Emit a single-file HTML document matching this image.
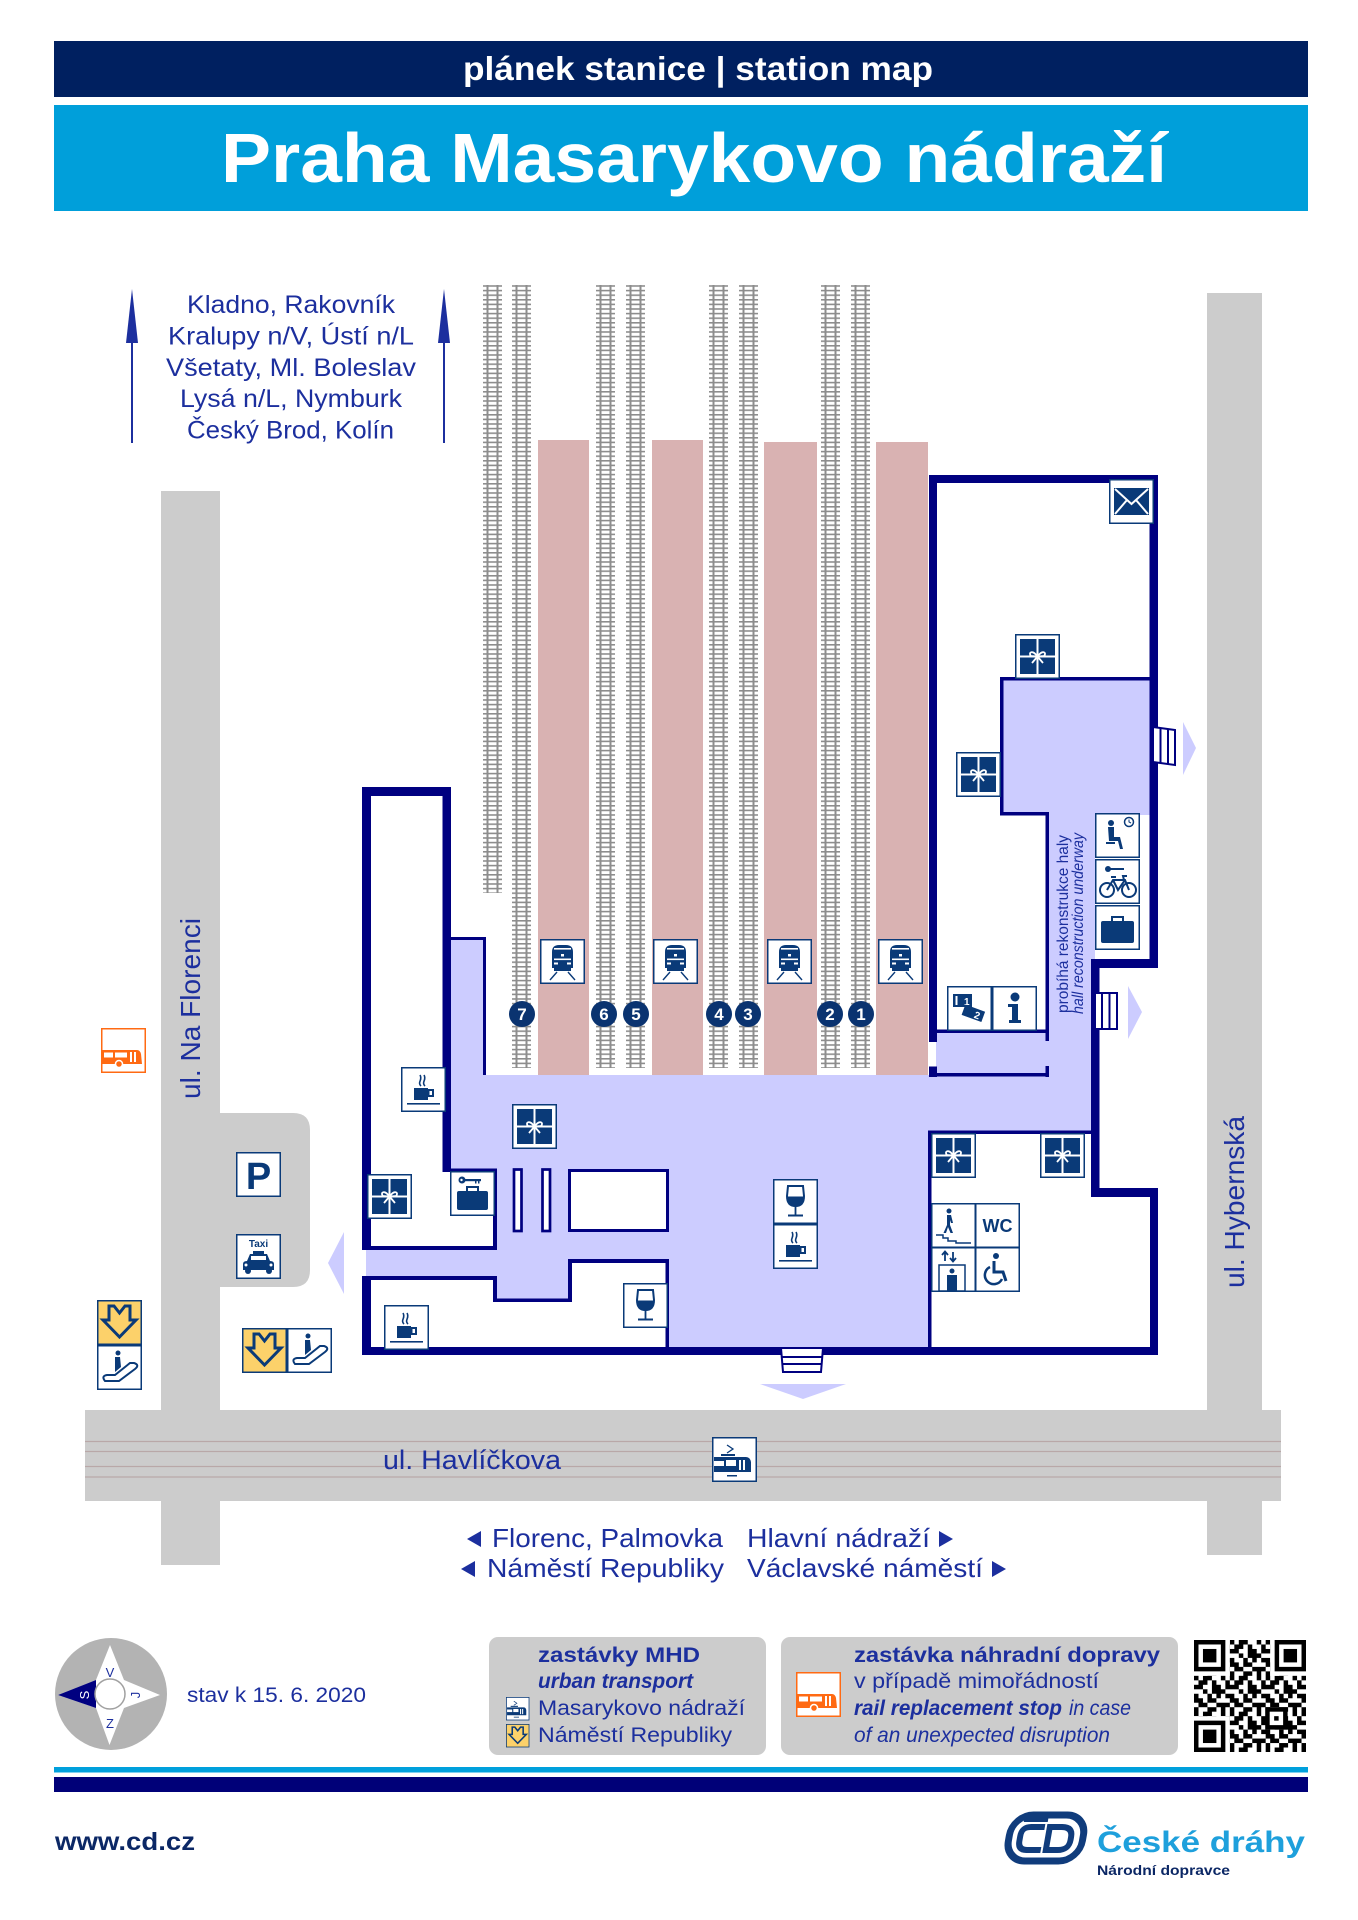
<!DOCTYPE html>
<html><head><meta charset="utf-8"><style>
html,body{margin:0;padding:0;background:#fff;}
svg{display:block;}
text{font-family:"Liberation Sans",sans-serif;}
</style></head><body>
<svg xmlns="http://www.w3.org/2000/svg" xmlns:xlink="http://www.w3.org/1999/xlink" width="1358" height="1920" viewBox="0 0 1358 1920">
<defs>
<pattern id="ties" x="0" y="0" width="19" height="4.6" patternUnits="userSpaceOnUse"><rect width="19" height="1.6" fill="#8d8d8d"/></pattern>
<g id="box"><rect x="0.75" y="0.75" width="43.5" height="43.5" fill="#fff" stroke="#0a3a78" stroke-width="1.5"/></g>
<g id="gift"><use href="#box"/><rect x="5" y="5" width="35" height="35" fill="#0a3a78"/><rect x="21.5" y="5" width="2" height="35" fill="#fff"/><rect x="5" y="21.5" width="35" height="2" fill="#fff"/><path d="M22.5 22.5 C17 15 13 19 16 22 Z M22.5 22.5 C28 15 32 19 29 22 Z M22.5 22.5 L17 29 M22.5 22.5 L28 29" stroke="#fff" stroke-width="1.8" fill="none"/></g>
<g id="train"><use href="#box"/><path d="M12 13 Q12 6 19 6 L26 6 Q33 6 33 13 L33 29 L12 29 Z" fill="#0a3a78"/><rect x="14" y="9" width="17" height="1.6" fill="#fff"/><rect x="14" y="19.5" width="17" height="1.6" fill="#fff"/><rect x="21" y="15" width="3" height="2.5" fill="#fff"/><rect x="14" y="23.5" width="4" height="2" fill="#fff"/><rect x="27" y="23.5" width="4" height="2" fill="#fff"/><rect x="14" y="29" width="17" height="3" fill="#0a3a78"/><path d="M17 33 L10 41 M28 33 L35 41" stroke="#0a3a78" stroke-width="1.4" fill="none"/></g>
<g id="cafe"><use href="#box"/><path d="M20 19 C16 15 22 13 19 8 M24 19 C20 15 26 13 23 8" stroke="#0a3a78" stroke-width="1.6" fill="none"/><rect x="13" y="21" width="14" height="12" fill="#0a3a78"/><rect x="27.5" y="23" width="4.5" height="6" fill="none" stroke="#0a3a78" stroke-width="2"/><rect x="6" y="36" width="33" height="1.6" fill="#0a3a78"/></g>
<g id="wine"><use href="#box"/><path d="M15 7 L30 7 L31 17 Q31 27 22.5 27 Q14 27 14 17 Z" fill="none" stroke="#0a3a78" stroke-width="2"/><path d="M14.5 17.5 L30.5 17.5 Q30.5 26.5 22.5 26.5 Q14.5 26.5 14.5 17.5 Z" fill="#0a3a78"/><rect x="21.6" y="26" width="1.8" height="10" fill="#0a3a78"/><rect x="15" y="35.5" width="15" height="2" fill="#0a3a78"/></g>
<g id="lugkey"><use href="#box"/><circle cx="12" cy="9" r="3.5" fill="#0a3a78"/><circle cx="11.5" cy="9" r="1.2" fill="#fff"/><rect x="14" y="8" width="17" height="2.2" fill="#0a3a78"/><rect x="25" y="10" width="1.5" height="2.5" fill="#0a3a78"/><rect x="28" y="10" width="1.5" height="2.5" fill="#0a3a78"/><rect x="17" y="16" width="11" height="5" fill="none" stroke="#0a3a78" stroke-width="2"/><rect x="7" y="20" width="31" height="19" rx="2" fill="#0a3a78"/></g>
<g id="lug"><use href="#box"/><rect x="17" y="12" width="11" height="5" fill="none" stroke="#0a3a78" stroke-width="2"/><rect x="6" y="16" width="33" height="22" rx="2" fill="#0a3a78"/></g>
<g id="env"><use href="#box"/><rect x="5" y="9" width="35" height="27" fill="#0a3a78"/><path d="M6 10 L22.5 25 L39 10 M6 35 L18 21 M39 35 L27 21" stroke="#fff" stroke-width="2" fill="none"/></g>
<g id="wait"><use href="#box"/><circle cx="16" cy="10" r="3" fill="#0a3a78"/><path d="M13 14 L19 14 L19 24 L25 24 L28 36 L25 36 L23 28 L14 28 Z" fill="#0a3a78"/><rect x="11" y="29" width="9" height="2" fill="#0a3a78"/><circle cx="34" cy="9" r="4.5" fill="#fff" stroke="#0a3a78" stroke-width="1.5"/><path d="M34 6.5 L34 9 L36 10" stroke="#0a3a78" stroke-width="1" fill="none"/></g>
<g id="bike"><use href="#box"/><circle cx="13" cy="10" r="3" fill="#0a3a78"/><rect x="15" y="9" width="14" height="2" fill="#0a3a78"/><circle cx="12" cy="31" r="7" fill="none" stroke="#0a3a78" stroke-width="2"/><circle cx="34" cy="31" r="7" fill="none" stroke="#0a3a78" stroke-width="2"/><path d="M12 31 L18 21 L30 21 L34 31 M18 21 L23 31 L30 21 M16 18 L21 18 M29 21 L28 17 L32 17" stroke="#0a3a78" stroke-width="2" fill="none"/></g>
<g id="ticket"><use href="#box"/><rect x="6" y="8" width="19" height="13" fill="#0a3a78"/><rect x="8.5" y="10" width="2" height="9" fill="#fff"/><text x="17" y="19" font-size="10" fill="#fff" font-weight="bold">1</text><g transform="rotate(20 27 27)"><rect x="16" y="22" width="21" height="11" fill="#0a3a78"/><text x="28" y="31.5" font-size="10" fill="#fff" font-weight="bold">2</text></g></g>
<g id="info"><use href="#box"/><circle cx="23" cy="11" r="4.5" fill="#0a3a78"/><path d="M16 18 L26 18 L26 34 L29 34 L29 37 L17 37 L17 34 L20 34 L20 21 L16 21 Z" fill="#0a3a78"/></g>
<g id="wc"><use href="#box"/><text x="22.5" y="29" font-size="18" font-weight="bold" text-anchor="middle" fill="#0a3a78">WC</text></g>
<g id="walk"><use href="#box"/><circle cx="18" cy="8" r="2.5" fill="#0a3a78"/><path d="M16 12 L20 12 L22 20 L20 20 L19 17 L19 22 L22 30 L19.5 30 L17 24 L15 30 L12.5 30 L16 22 Z" fill="#0a3a78"/><path d="M5 32 L12 32 L12 35 L17 35 L17 38 L25 38 L25 40 L40 40" stroke="#0a3a78" stroke-width="1.5" fill="none"/></g>
<g id="lift"><use href="#box"/><path d="M14 14 L14 5 M11 8 L14 4.5 L17 8 M22 5 L22 14 M19 11 L22 14.5 L25 11" stroke="#0a3a78" stroke-width="1.8" fill="none"/><rect x="8" y="18" width="26" height="26" fill="none" stroke="#0a3a78" stroke-width="1.5"/><circle cx="21" cy="24" r="2.5" fill="#0a3a78"/><rect x="16" y="28" width="10" height="16" fill="#0a3a78"/></g>
<g id="wheel"><use href="#box"/><circle cx="21" cy="9" r="3" fill="#0a3a78"/><path d="M19 14 L19 25 L28 25 L31 34" stroke="#0a3a78" stroke-width="3" fill="none"/><path d="M15 20 A9 9 0 1 0 27 32" stroke="#0a3a78" stroke-width="2.5" fill="none"/></g>
<g id="park"><use href="#box"/><text x="22.5" y="37" font-size="38" font-weight="bold" text-anchor="middle" fill="#0a3a78">P</text></g>
<g id="taxi"><use href="#box"/><text x="22.5" y="13" font-size="10" font-weight="bold" text-anchor="middle" fill="#0a3a78">Taxi</text><path d="M17 17 L28 17 L28 20 L31 20 L34 27 Q38 27 38 30 L38 36 L7 36 L7 30 Q7 27 11 27 L14 20 L17 20 Z" fill="#0a3a78"/><rect x="15" y="22" width="15" height="4" fill="#fff"/><circle cx="12" cy="37" r="3" fill="#0a3a78"/><circle cx="33" cy="37" r="3" fill="#0a3a78"/><circle cx="10" cy="31" r="1.5" fill="#fff"/><circle cx="35" cy="31" r="1.5" fill="#fff"/></g>
<g id="metro"><rect x="0.75" y="0.75" width="43.5" height="43.5" fill="#fcd16a" stroke="#0a3a78" stroke-width="1.5"/><path d="M12 6 L17 6 L22.5 13 L28 6 L33 6 L33 20 L39 20 L22.5 37 L6 20 L12 20 Z" fill="none" stroke="#0a3a78" stroke-width="3"/></g>
<g id="esc"><use href="#box"/><path d="M8 36 Q4 31 10 30 L18 30 L33 18 L37 18 Q43 20 38 24 L22 36 Z" fill="none" stroke="#0a3a78" stroke-width="2"/><circle cx="21" cy="8" r="2.5" fill="#0a3a78"/><path d="M18 12 L23 12 L24 22 L18 27 Z" fill="#0a3a78"/></g>
<g id="bus"><rect x="0.75" y="0.75" width="43.5" height="43.5" fill="#fff" stroke="#ff6a13" stroke-width="1.5"/><path d="M1.5 22 L36 22 Q39 22 40 26 L41 36 L1.5 36 Z" fill="#ff6a13"/><rect x="3" y="24.5" width="9" height="5" fill="#fff"/><rect x="14" y="24.5" width="12" height="5" fill="#fff"/><rect x="29" y="24" width="2" height="10" fill="#fff"/><rect x="33" y="24" width="2" height="10" fill="#fff"/><circle cx="18" cy="36" r="3.5" fill="#ff6a13" stroke="#fff" stroke-width="1.5"/></g>
<g id="tram"><use href="#box"/><path d="M15 8 L21 12 L15 16" stroke="#0a3a78" stroke-width="1.3" fill="none"/><rect x="9" y="17" width="14" height="2" fill="#0a3a78"/><path d="M2 20 L34 20 Q38 20 39 25 L39 35 L2 35 Z" fill="#0a3a78"/><rect x="2" y="24" width="10" height="5" fill="#fff"/><rect x="14" y="23" width="10" height="6" fill="#fff"/><rect x="27" y="23" width="2" height="10" fill="#fff"/><rect x="31" y="23" width="2" height="10" fill="#fff"/><rect x="15" y="38" width="10" height="1.5" fill="#0a3a78"/></g>
<pattern id="qr" x="1194" y="1640" width="35.84" height="35.84" patternUnits="userSpaceOnUse">
<g fill="#000">
<rect x="0" y="0" width="4.5" height="4.5"/><rect x="8.96" y="0" width="4.5" height="4.5"/><rect x="13.44" y="0" width="4.5" height="4.5"/><rect x="26.88" y="0" width="4.5" height="4.5"/>
<rect x="4.48" y="4.48" width="4.5" height="4.5"/><rect x="8.96" y="4.48" width="4.5" height="4.5"/><rect x="17.92" y="4.48" width="4.5" height="4.5"/><rect x="31.36" y="4.48" width="4.5" height="4.5"/>
<rect x="0" y="8.96" width="4.5" height="4.5"/><rect x="4.48" y="8.96" width="4.5" height="4.5"/><rect x="17.92" y="8.96" width="4.5" height="4.5"/><rect x="22.4" y="8.96" width="4.5" height="4.5"/><rect x="31.36" y="8.96" width="4.5" height="4.5"/>
<rect x="8.96" y="13.44" width="4.5" height="4.5"/><rect x="17.92" y="13.44" width="4.5" height="4.5"/><rect x="22.4" y="13.44" width="4.5" height="4.5"/><rect x="26.88" y="13.44" width="4.5" height="4.5"/>
<rect x="0" y="17.92" width="4.5" height="4.5"/><rect x="13.44" y="17.92" width="4.5" height="4.5"/><rect x="22.4" y="17.92" width="4.5" height="4.5"/><rect x="31.36" y="17.92" width="4.5" height="4.5"/>
<rect x="0" y="22.4" width="4.5" height="4.5"/><rect x="4.48" y="22.4" width="4.5" height="4.5"/><rect x="13.44" y="22.4" width="4.5" height="4.5"/><rect x="17.92" y="22.4" width="4.5" height="4.5"/>
<rect x="4.48" y="26.88" width="4.5" height="4.5"/><rect x="8.96" y="26.88" width="4.5" height="4.5"/><rect x="22.4" y="26.88" width="4.5" height="4.5"/><rect x="26.88" y="26.88" width="4.5" height="4.5"/><rect x="31.36" y="26.88" width="4.5" height="4.5"/>
<rect x="0" y="31.36" width="4.5" height="4.5"/><rect x="13.44" y="31.36" width="4.5" height="4.5"/><rect x="17.92" y="31.36" width="4.5" height="4.5"/><rect x="26.88" y="31.36" width="4.5" height="4.5"/>
</g></pattern>
</defs>

<!-- Header -->
<rect x="54" y="41" width="1254" height="56" fill="#002060"/>
<text x="463" y="80" font-size="33" font-weight="bold" fill="#fff" textLength="470" lengthAdjust="spacingAndGlyphs">plánek stanice | station map</text>
<rect x="54" y="105" width="1254" height="106" fill="#009fda"/>
<text x="221" y="182" font-size="70" font-weight="bold" fill="#fff" textLength="946" lengthAdjust="spacingAndGlyphs">Praha Masarykovo nádraží</text>

<!-- Direction text top-left -->
<g fill="#1c2f9e" font-size="25">
<text x="187" y="313" textLength="208" lengthAdjust="spacingAndGlyphs">Kladno, Rakovník</text>
<text x="168" y="344.5" textLength="246" lengthAdjust="spacingAndGlyphs">Kralupy n/V, Ústí n/L</text>
<text x="166" y="376" textLength="250" lengthAdjust="spacingAndGlyphs">Všetaty, Ml. Boleslav</text>
<text x="180" y="407" textLength="222" lengthAdjust="spacingAndGlyphs">Lysá n/L, Nymburk</text>
<text x="187" y="438.5" textLength="207" lengthAdjust="spacingAndGlyphs">Český Brod, Kolín</text>
</g>
<g fill="#1c2f9e" stroke="#1c2f9e">
<line x1="132" y1="300" x2="132" y2="443" stroke-width="2"/>
<polygon points="132,289 126,343 138,343" stroke="none"/>
<line x1="444" y1="300" x2="444" y2="443" stroke-width="2"/>
<polygon points="444,289 438,343 450,343" stroke="none"/>
</g>

<!-- Roads -->
<g fill="#cccccc">
<rect x="161" y="491" width="59" height="1074"/>
<path d="M220 1113 L293 1113 Q310 1113 310 1130 L310 1270 Q310 1287 293 1287 L220 1287 Z"/>
<rect x="85" y="1410" width="1196" height="91"/>
<rect x="1207" y="293" width="55" height="1262"/>
</g>
<g stroke="#b9a8a8" stroke-width="1.3">
<line x1="85" y1="1441.5" x2="1281" y2="1441.5"/>
<line x1="85" y1="1451.5" x2="1281" y2="1451.5"/>
<line x1="85" y1="1466.5" x2="1281" y2="1466.5"/>
<line x1="85" y1="1477" x2="1281" y2="1477"/>
</g>

<!-- Platforms -->
<g fill="#d9b2b2">
<rect x="538" y="440" width="51" height="635"/>
<rect x="652" y="440" width="51" height="635"/>
<rect x="764" y="442" width="53" height="633"/>
<rect x="876" y="442" width="52" height="633"/>
</g>

<!-- Tracks -->
<g>
<rect x="483" y="285" width="19" height="608" fill="url(#ties)"/><rect x="486.5" y="285" width="2" height="608" fill="#8d8d8d"/><rect x="496.5" y="285" width="2" height="608" fill="#8d8d8d"/>
<rect x="512" y="285" width="19" height="783" fill="url(#ties)"/><rect x="515.5" y="285" width="2" height="783" fill="#8d8d8d"/><rect x="525.5" y="285" width="2" height="783" fill="#8d8d8d"/>
<rect x="596" y="285" width="19" height="783" fill="url(#ties)"/><rect x="599.5" y="285" width="2" height="783" fill="#8d8d8d"/><rect x="609.5" y="285" width="2" height="783" fill="#8d8d8d"/>
<rect x="626" y="285" width="19" height="783" fill="url(#ties)"/><rect x="629.5" y="285" width="2" height="783" fill="#8d8d8d"/><rect x="639.5" y="285" width="2" height="783" fill="#8d8d8d"/>
<rect x="709" y="285" width="19" height="783" fill="url(#ties)"/><rect x="712.5" y="285" width="2" height="783" fill="#8d8d8d"/><rect x="722.5" y="285" width="2" height="783" fill="#8d8d8d"/>
<rect x="739" y="285" width="19" height="783" fill="url(#ties)"/><rect x="742.5" y="285" width="2" height="783" fill="#8d8d8d"/><rect x="752.5" y="285" width="2" height="783" fill="#8d8d8d"/>
<rect x="821" y="285" width="19" height="783" fill="url(#ties)"/><rect x="824.5" y="285" width="2" height="783" fill="#8d8d8d"/><rect x="834.5" y="285" width="2" height="783" fill="#8d8d8d"/>
<rect x="851" y="285" width="19" height="783" fill="url(#ties)"/><rect x="854.5" y="285" width="2" height="783" fill="#8d8d8d"/><rect x="864.5" y="285" width="2" height="783" fill="#8d8d8d"/>
</g>

<!-- Lavender hall -->
<g fill="#ccccff">
<rect x="451" y="937" width="35" height="140"/>
<rect x="451" y="1075" width="644" height="276"/>
<rect x="366" y="1248" width="131" height="30"/>
<rect x="1000" y="678" width="154" height="137"/>
<rect x="1046" y="812" width="49" height="322"/>
<rect x="936" y="1031" width="113" height="46"/>
</g>
<!-- white rooms -->
<g fill="#fff">
<polygon points="362,787 451,787 451,1170 497,1170 497,1250 362,1250"/>
<polygon points="362,1278 495,1278 495,1300 570,1300 570,1261 668,1261 668,1351 362,1351"/>
<rect x="929" y="1132" width="166" height="219"/>
</g>
<!-- inner rect and bars -->
<rect x="569.5" y="1170.5" width="98" height="60" fill="#fff" stroke="#000080" stroke-width="3"/>
<rect x="514" y="1169.5" width="7.5" height="61.5" fill="#fff" stroke="#000080" stroke-width="2.7"/>
<rect x="542.5" y="1169.5" width="7.5" height="61.5" fill="#fff" stroke="#000080" stroke-width="2.7"/>

<!-- Walls -->
<g fill="#000080">
<rect x="362" y="787" width="9" height="463"/>
<rect x="362" y="787" width="89" height="9"/>
<rect x="442.5" y="787" width="8.5" height="385"/>
<rect x="442.5" y="1168.5" width="54.5" height="3.5"/>
<rect x="493" y="1168.5" width="4" height="81.5"/>
<rect x="362" y="1246" width="135" height="4"/>
<rect x="451" y="937" width="35" height="3"/>
<rect x="483" y="937" width="3" height="138"/>
<rect x="362" y="1276" width="9" height="79"/>
<rect x="362" y="1276" width="135" height="4"/>
<rect x="493" y="1276" width="4" height="26"/>
<rect x="493" y="1298.5" width="79" height="3.5"/>
<rect x="568" y="1259" width="4" height="43"/>
<rect x="568" y="1259" width="101" height="4"/>
<rect x="665.5" y="1259" width="3.5" height="90"/>
<rect x="362" y="1347" width="796" height="8"/>
<rect x="928" y="1130.5" width="167" height="3.5"/>
<rect x="928" y="1130.5" width="3.5" height="218"/>
<rect x="1091" y="959" width="8.5" height="238"/>
<rect x="1091" y="1188" width="67" height="9"/>
<rect x="1150" y="1188" width="8" height="167"/>
<rect x="929" y="475" width="8" height="567"/>
<rect x="929" y="1066.5" width="8" height="10.5"/>
<rect x="929" y="475" width="229" height="8"/>
<rect x="1149.5" y="475" width="8.5" height="493"/>
<rect x="1091" y="959" width="67" height="9"/>
<rect x="1000" y="677" width="3.5" height="138"/>
<rect x="1000" y="677" width="150" height="3.5"/>
<rect x="1000" y="812" width="49" height="3.5"/>
<rect x="1045.5" y="812" width="3.5" height="229"/>
<rect x="937" y="1029.5" width="112" height="3.5"/>
<rect x="1045.5" y="1066" width="3.5" height="11"/>
<rect x="929" y="1073" width="120" height="3.5"/>
</g>

<!-- Steps and exit arrows -->
<g fill="#fff" stroke="#000080" stroke-width="2">
<polygon points="781,1348 823,1348 821,1372 783,1372"/>
<line x1="782" y1="1357" x2="822" y2="1357"/>
<line x1="782" y1="1364" x2="822" y2="1364"/>
<polygon points="1153,727 1175,730 1175,765 1153,762"/>
<line x1="1160.5" y1="728" x2="1160.5" y2="763"/>
<line x1="1168" y1="729" x2="1168" y2="764"/>
<rect x="1095" y="993" width="22" height="36"/>
<line x1="1102" y1="993" x2="1102" y2="1029"/>
<line x1="1109.5" y1="993" x2="1109.5" y2="1029"/>
</g>
<g fill="#ccccff">
<polygon points="760,1384 846,1384 803,1399"/>
<polygon points="344,1232 344,1294 328,1263"/>
<polygon points="1183,722 1196,748 1183,775"/>
<polygon points="1128,986 1142,1012 1128,1039"/>
</g>

<!-- Track number circles -->
<g fill="#0a3370">
<circle cx="522" cy="1014" r="13"/><circle cx="604" cy="1014" r="13"/><circle cx="636" cy="1014" r="13"/>
<circle cx="719" cy="1014" r="13"/><circle cx="748" cy="1014" r="13"/><circle cx="830" cy="1014" r="13"/><circle cx="861" cy="1014" r="13"/>
</g>
<g fill="#fff" font-size="17" font-weight="bold" text-anchor="middle">
<text x="522" y="1020">7</text><text x="604" y="1020">6</text><text x="636" y="1020">5</text>
<text x="719" y="1020">4</text><text x="748" y="1020">3</text><text x="830" y="1020">2</text><text x="861" y="1020">1</text>
</g>

<!-- Icons -->
<use href="#train" x="540" y="939"/>
<use href="#train" x="653" y="939"/>
<use href="#train" x="767" y="939"/>
<use href="#train" x="878" y="939"/>
<use href="#cafe" x="401" y="1067"/>
<use href="#gift" x="367" y="1174"/>
<use href="#lugkey" x="450" y="1171"/>
<use href="#gift" x="512" y="1104"/>
<use href="#wine" x="773" y="1179"/>
<use href="#cafe" x="773" y="1224"/>
<use href="#wine" x="623" y="1283"/>
<use href="#cafe" x="384" y="1305"/>
<use href="#gift" x="931" y="1133"/>
<use href="#gift" x="1040" y="1133"/>
<use href="#walk" x="931" y="1203"/>
<use href="#wc" x="975" y="1203"/>
<use href="#lift" x="931" y="1247"/>
<use href="#wheel" x="975" y="1247"/>
<use href="#env" x="1109" y="479"/>
<use href="#gift" x="1015" y="634"/>
<use href="#gift" x="956" y="752"/>
<use href="#wait" x="1095" y="813"/>
<use href="#bike" x="1095" y="859"/>
<use href="#lug" x="1095" y="905"/>
<use href="#ticket" x="947" y="986"/>
<use href="#info" x="992" y="986"/>
<use href="#bus" x="101" y="1028"/>
<use href="#park" x="236" y="1152"/>
<use href="#taxi" x="236" y="1234"/>
<use href="#metro" x="97" y="1300"/>
<use href="#esc" x="97" y="1345"/>
<use href="#metro" x="242" y="1328"/>
<use href="#esc" x="287" y="1328"/>
<use href="#tram" x="712" y="1437"/>

<!-- Map labels -->
<g fill="#1c2f9e">
<text transform="translate(200,1099) rotate(-90)" font-size="28" textLength="181" lengthAdjust="spacingAndGlyphs">ul. Na Florenci</text>
<text transform="translate(1244,1288) rotate(-90)" font-size="28" textLength="172" lengthAdjust="spacingAndGlyphs">ul. Hybernská</text>
<text x="383" y="1469" font-size="27" textLength="178" lengthAdjust="spacingAndGlyphs">ul. Havlíčkova</text>
<text transform="translate(1068,1013) rotate(-90)" font-size="16" textLength="178" lengthAdjust="spacingAndGlyphs">probíhá rekonstrukce haly</text>
<text transform="translate(1083,1014) rotate(-90)" font-size="16" font-style="italic" textLength="181" lengthAdjust="spacingAndGlyphs">hall reconstruction underway</text>
</g>

<!-- Bottom direction texts -->
<g fill="#1c2f9e" font-size="26">
<text x="492" y="1547" textLength="231" lengthAdjust="spacingAndGlyphs">Florenc, Palmovka</text>
<text x="487" y="1577" textLength="237" lengthAdjust="spacingAndGlyphs">Náměstí Republiky</text>
<text x="747" y="1547" textLength="183" lengthAdjust="spacingAndGlyphs">Hlavní nádraží</text>
<text x="747" y="1577" textLength="236" lengthAdjust="spacingAndGlyphs">Václavské náměstí</text>
<polygon points="481,1531 481,1547 467,1539"/>
<polygon points="475,1561 475,1577 461,1569"/>
<polygon points="939,1531 939,1547 953,1539"/>
<polygon points="992,1561 992,1577 1006,1569"/>
</g>

<!-- Compass -->
<circle cx="111" cy="1694" r="56" fill="#b3b3b3"/>
<polygon points="110,1645 124,1680 160,1695 124,1708 109.5,1745 96,1708 58,1695 96,1680" fill="#fff"/>
<polygon points="58,1695 96,1680 96,1708" fill="#000080"/>
<circle cx="110" cy="1694" r="15" fill="#fff" stroke="#a0a0a0" stroke-width="1.5"/>
<g font-size="13" fill="#1c2f9e" text-anchor="middle">
<text x="110" y="1677">V</text>
<text x="110" y="1728">Z</text>
<text transform="translate(89,1695) rotate(-90)" fill="#fff">S</text>
<text transform="translate(140,1695) rotate(-90)">J</text>
</g>
<text x="187" y="1702" font-size="21" fill="#1c2f9e" textLength="179" lengthAdjust="spacingAndGlyphs">stav k 15. 6. 2020</text>

<!-- Legend MHD -->
<rect x="489" y="1637" width="277" height="118" rx="9" fill="#cccccc"/>
<g fill="#1c2f9e" font-size="21">
<text x="538" y="1662" font-weight="bold" textLength="162" lengthAdjust="spacingAndGlyphs">zastávky MHD</text>
<text x="538" y="1688" font-weight="bold" font-style="italic" textLength="155" lengthAdjust="spacingAndGlyphs">urban transport</text>
<text x="538" y="1715" textLength="207" lengthAdjust="spacingAndGlyphs">Masarykovo nádraží</text>
<text x="538" y="1742" textLength="194" lengthAdjust="spacingAndGlyphs">Náměstí Republiky</text>
</g>
<use href="#tram" transform="translate(506,1697) scale(0.52)"/>
<use href="#metro" transform="translate(506,1724) scale(0.52)"/>

<!-- Legend replacement -->
<rect x="781" y="1637" width="397" height="118" rx="9" fill="#cccccc"/>
<use href="#bus" x="796" y="1672"/>
<g fill="#1c2f9e" font-size="21">
<text x="854" y="1662" font-weight="bold" textLength="306" lengthAdjust="spacingAndGlyphs">zastávka náhradní dopravy</text>
<text x="854" y="1688" textLength="245" lengthAdjust="spacingAndGlyphs">v případě mimořádností</text>
<text x="854" y="1715" font-weight="bold" font-style="italic" textLength="208" lengthAdjust="spacingAndGlyphs">rail replacement stop</text>
<text x="1069" y="1715" font-style="italic" textLength="62" lengthAdjust="spacingAndGlyphs">in case</text>
<text x="854" y="1742" font-style="italic" textLength="256" lengthAdjust="spacingAndGlyphs">of an unexpected disruption</text>
</g>

<!-- QR -->
<rect x="1194" y="1640" width="112" height="112" fill="url(#qr)"/>
<g>
<rect x="1194" y="1640" width="35.84" height="35.84" fill="#fff"/>
<rect x="1194" y="1640" width="31.36" height="31.36" fill="#000"/>
<rect x="1198.48" y="1644.48" width="22.4" height="22.4" fill="#fff"/>
<rect x="1202.96" y="1648.96" width="13.44" height="13.44" fill="#000"/>
<rect x="1270.16" y="1640" width="35.84" height="35.84" fill="#fff"/>
<rect x="1274.64" y="1640" width="31.36" height="31.36" fill="#000"/>
<rect x="1279.12" y="1644.48" width="22.4" height="22.4" fill="#fff"/>
<rect x="1283.6" y="1648.96" width="13.44" height="13.44" fill="#000"/>
<rect x="1194" y="1716.16" width="35.84" height="35.84" fill="#fff"/>
<rect x="1194" y="1720.64" width="31.36" height="31.36" fill="#000"/>
<rect x="1198.48" y="1725.12" width="22.4" height="22.4" fill="#fff"/>
<rect x="1202.96" y="1729.6" width="13.44" height="13.44" fill="#000"/>
<rect x="1265.2" y="1707.2" width="22.4" height="22.4" fill="#000"/>
<rect x="1269.68" y="1711.68" width="13.44" height="13.44" fill="#fff"/>
<rect x="1274.16" y="1716.16" width="4.48" height="4.48" fill="#000"/>
</g>

<!-- Stripes -->
<rect x="54" y="1767" width="1254" height="5.5" fill="#00a0dc"/>
<rect x="54" y="1777" width="1254" height="15" fill="#000078"/>

<!-- Footer -->
<text x="55" y="1850" font-size="25" font-weight="bold" fill="#0b2765" textLength="140" lengthAdjust="spacingAndGlyphs">www.cd.cz</text>
<g transform="skewX(-10) translate(323,0)">
<rect x="1010" y="1815" width="74" height="46" rx="20" fill="none" stroke="#103c7c" stroke-width="7"/>
<path d="M1044 1827 L1030 1827 Q1021 1827 1021 1836 L1021 1841 Q1021 1850 1030 1850 L1044 1850" fill="none" stroke="#103c7c" stroke-width="6"/>
<path d="M1049 1827 L1061 1827 Q1072 1827 1072 1837 L1072 1840 Q1072 1850 1061 1850 L1049 1850 Z" fill="none" stroke="#103c7c" stroke-width="6"/>
<rect x="1022" y="1818" width="24" height="4" fill="#103c7c"/>
</g>
<text x="1097" y="1852" font-size="30" font-weight="bold" fill="#1ea0dc" textLength="208" lengthAdjust="spacingAndGlyphs">České dráhy</text>
<text x="1097" y="1875" font-size="14" font-weight="bold" fill="#0b2765" textLength="133" lengthAdjust="spacingAndGlyphs">Národní dopravce</text>
</svg>
</body></html>
